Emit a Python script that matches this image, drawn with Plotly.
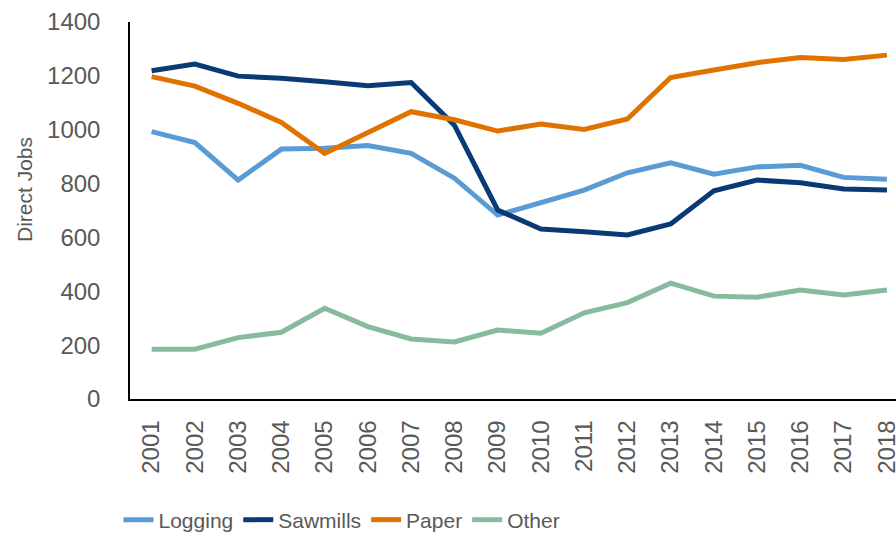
import plotly.graph_objects as go

years = [str(y) for y in range(2001, 2019)]
logging = [993, 952, 813, 928, 931, 941, 912, 820, 683, 730, 776, 840, 877, 835, 862, 868, 823, 816]
sawmills = [1219, 1244, 1199, 1191, 1178, 1163, 1175, 1017, 702, 631, 621, 609, 650, 773, 813, 803, 780, 776]
paper = [1197, 1162, 1098, 1027, 912, 987, 1067, 1037, 995, 1021, 1001, 1040, 1194, 1222, 1249, 1268, 1261, 1277]
other = [185, 185, 228, 248, 337, 269, 223, 212, 256, 244, 320, 358, 430, 382, 378, 405, 386, 405]

series = [
    ("Logging", logging, "#5B9BD5"),
    ("Sawmills", sawmills, "#093A74"),
    ("Paper", paper, "#E07300"),
    ("Other", other, "#86BBA0"),
]

FONT = "Liberation Sans"
GRAY = "#595959"

fig = go.Figure()
for name, vals, color in series:
    fig.add_trace(go.Scatter(
        x=years, y=vals, name=name, mode="lines",
        line=dict(color=color, width=5),
    ))

fig.update_layout(
    width=896, height=535,
    margin=dict(l=130, r=0, t=22, b=136, autoexpand=False),
    paper_bgcolor="white", plot_bgcolor="white",
    font=dict(family=FONT, color=GRAY, size=24),
    showlegend=True,
    legend=dict(
        orientation="h", x=-0.015, xanchor="left", y=-0.321, yanchor="middle",
        font=dict(family=FONT, size=21, color=GRAY),
        itemwidth=30, tracegroupgap=0,
    ),
    xaxis=dict(
        type="category", range=[-0.5, 17.21], automargin=False,
        showline=True, linecolor="black", linewidth=1.5,
        showgrid=False, zeroline=False,
        tickangle=-90, ticks="", ticklabelstandoff=10,
        tickfont=dict(family=FONT, size=24, color=GRAY),
    ),
    yaxis=dict(
        range=[0, 1400], dtick=200, automargin=False,
        showline=True, linecolor="black", linewidth=1.5,
        showgrid=False, zeroline=False,
        ticks="", ticklabelstandoff=23,
        tickfont=dict(family=FONT, size=24, color=GRAY),
    ),
    annotations=[dict(
        text="Direct Jobs", textangle=-90, showarrow=False,
        xref="paper", yref="paper",
        x=(25 - 130) / 766, y=(399 - 190) / 377,
        xanchor="center", yanchor="middle",
        font=dict(family=FONT, size=21, color=GRAY),
    )],
)

fig.write_html(
    "out.html",
    config={"displayModeBar": False},
    post_script="document.body.style.margin='0';document.body.style.overflow='hidden';",
)
